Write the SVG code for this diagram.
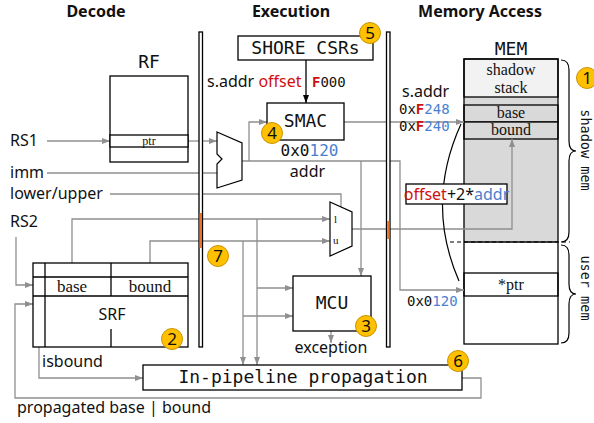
<svg xmlns="http://www.w3.org/2000/svg" width="594" height="423" viewBox="0 0 594 423">
  <defs>
    <marker id="arrow-gray" markerUnits="userSpaceOnUse" markerWidth="8" markerHeight="6" refX="8" refY="3" orient="auto">
      <path d="M0,0 L8,3 L0,6 z" fill="#8f8f8f"/>
    </marker>
    <marker id="arrow-black" markerUnits="userSpaceOnUse" markerWidth="8" markerHeight="6" refX="8" refY="3" orient="auto">
      <path d="M0,0 L8,3 L0,6 z" fill="#000"/>
    </marker>
  </defs>
  <style>
    .head { font-family: "Noto Sans", "Liberation Sans", sans-serif; font-weight: bold; font-size: 16px; fill: #111; text-anchor: middle; }
    .lbl { font-family: "Noto Sans", "Liberation Sans", sans-serif; font-size: 16px; fill: #111; }
    .mono { font-family: "DejaVu Sans Mono", "Liberation Mono", monospace; fill: #111; }
    .serif { font-family: "Liberation Serif", "Times New Roman", serif; fill: #111; }
    .box { fill: #fff; stroke: #000; stroke-width: 1.3; }
    .wire { fill: none; stroke: #8f8f8f; stroke-width: 1.3; }
    .arr { marker-end: url(#arrow-gray); }
    .bar { fill: #fff; stroke: #000; stroke-width: 1.3; }
    .hot { fill: #E8742A; }
    .red { fill: #D01010; }
    .blue { fill: #4A7FD0; }
    .badge circle { fill: #FFC000; stroke: #C89400; stroke-width: 1; }
    .badge text { font-family: "Noto Sans", "Liberation Sans", sans-serif; font-size: 17px; fill: #111; text-anchor: middle; }
  </style>

  <!-- stage titles -->
  <text class="head" x="96" y="17">Decode</text>
  <text class="head" x="291" y="17">Execution</text>
  <text class="head" x="480" y="17">Memory Access</text>

  <!-- memory layout -->
  <g id="mem">
    <text class="mono" x="511" y="55" font-size="18" text-anchor="middle">MEM</text>
    <rect x="464" y="59" width="94" height="183" fill="#d9d9d9" stroke="none"/>
    <rect x="464" y="59" width="94" height="38" fill="#f2f2f2" stroke="#000" stroke-width="1.3"/>
    <text class="serif" x="511" y="75" font-size="16" text-anchor="middle">shadow</text>
    <text class="serif" x="511" y="93" font-size="16" text-anchor="middle">stack</text>
    <rect x="464" y="105" width="94" height="17" fill="#d9d9d9" stroke="#000" stroke-width="1.3"/>
    <text class="serif" x="511" y="118" font-size="16" text-anchor="middle">base</text>
    <rect x="464" y="122" width="94" height="17" fill="#d9d9d9" stroke="#000" stroke-width="1.3"/>
    <text class="serif" x="511" y="135" font-size="16" text-anchor="middle">bound</text>
    <line x1="450" y1="242" x2="570" y2="242" stroke="#000" stroke-width="1.2" stroke-dasharray="4,3"/>
    <rect x="464" y="273" width="94" height="23" fill="#fff" stroke="#000" stroke-width="1.3"/>
    <text class="serif" x="511" y="290" font-size="16" text-anchor="middle">*ptr</text>
    <rect x="464" y="59" width="94" height="285" fill="none" stroke="#000" stroke-width="1.3"/>
    <line x1="464" y1="242" x2="558" y2="242" stroke="#000" stroke-width="1.3"/>
    <!-- region braces -->
    <path d="M561,60 Q569,60 569,70 L569,141 Q569,151 576,151 Q569,151 569,161 L569,232 Q569,242 561,242" fill="none" stroke="#000" stroke-width="1.2"/>
    <path d="M561,245 Q569,245 569,255 L569,284 Q569,294 576,294 Q569,294 569,304 L569,333 Q569,343 561,343" fill="none" stroke="#000" stroke-width="1.2"/>
    <text class="mono" font-size="13.5" text-anchor="middle" transform="translate(581,150) rotate(90)">shadow mem</text>
    <text class="mono" font-size="13.5" text-anchor="middle" transform="translate(581,288) rotate(90)">user mem</text>
  </g>

  <!-- connectors -->
  <g id="connectors">
    <path class="wire arr" d="M47,141 H110"/>
    <path class="wire arr" d="M188,141 H217"/>
    <path class="wire" d="M47,173 H217"/>
    <path class="wire" d="M110,194 H341 V207"/>
    <path class="wire arr" d="M72,263 V219 H330"/>
    <path class="wire arr" d="M150,263 V241 H330"/>
    <path class="wire arr" d="M16,237 V285 H33"/>
    <path class="wire arr" d="M257,219 V365"/>
    <path class="wire arr" d="M257,288 H293"/>
    <path class="wire arr" d="M243,241 V365"/>
    <path class="wire arr" d="M243,316 H293"/>
    <path class="wire arr" d="M242,161 H400 V290 H464"/>
    <path class="wire arr" d="M249,161 V122 H267"/>
    <path class="wire arr" d="M361,161 V276"/>
    <path class="wire arr" d="M344,122 H464"/>
    <path class="wire arr" d="M352,229 H512 V139"/>
    <path class="wire arr" d="M331,331 V343"/>
    <path class="wire arr" d="M39,347 V378 H143"/>
    <path class="wire arr" d="M462,378 H481 V398 H15 V304 H33"/>
    <path d="M306,60 V103" fill="none" stroke="#000" stroke-width="1.3" marker-end="url(#arrow-black)"/>
    <path d="M461,124 Q425,203 459,281" fill="none" stroke="#000" stroke-width="1.2"/>
  </g>

  <!-- pipeline registers -->
  <g id="reg-de">
    <rect class="bar" x="199" y="32" width="3.5" height="315"/>
    <rect class="hot" x="199.6" y="213" width="2.4" height="35"/>
  </g>
  <g id="reg-em">
    <rect class="bar" x="386.5" y="32" width="3.5" height="315"/>
    <rect class="hot" x="387.1" y="221" width="2.4" height="18"/>
  </g>

  <!-- input labels -->
  <g id="inputs">
    <text class="lbl" x="10" y="146">RS1</text>
    <text class="lbl" x="10" y="178">imm</text>
    <text class="lbl" x="10" y="199">lower/upper</text>
    <text class="lbl" x="10" y="227">RS2</text>
  </g>

  <!-- register file -->
  <g id="rf">
    <text class="mono" x="149" y="68" font-size="18" text-anchor="middle">RF</text>
    <rect class="box" x="110" y="76" width="78" height="86"/>
    <rect class="box" x="110" y="135" width="78" height="12"/>
    <text class="serif" x="149" y="145" font-size="12" text-anchor="middle">ptr</text>
  </g>

  <!-- shadow register file -->
  <g id="srf">
    <rect class="box" x="33" y="263" width="155" height="84"/>
    <line x1="45" y1="263" x2="45" y2="347" stroke="#000" stroke-width="1.3"/>
    <line x1="33" y1="277" x2="188" y2="277" stroke="#000" stroke-width="1.3"/>
    <line x1="33" y1="296" x2="188" y2="296" stroke="#000" stroke-width="1.3"/>
    <line x1="111" y1="263" x2="111" y2="296" stroke="#000" stroke-width="1.3"/>
    <line x1="111" y1="329" x2="111" y2="347" stroke="#000" stroke-width="1.3"/>
    <text class="serif" x="72" y="292" font-size="17" text-anchor="middle">base</text>
    <text class="serif" x="150" y="292" font-size="17" text-anchor="middle">bound</text>
    <text class="lbl" x="112" y="320" font-size="18" text-anchor="middle">SRF</text>
    <text class="lbl" x="42" y="367" font-size="15.5">isbound</text>
  </g>

  <!-- CSRs -->
  <g id="csr">
    <rect class="box" x="238" y="36" width="135" height="24"/>
    <text class="mono" x="305.5" y="54" font-size="18" text-anchor="middle">SHORE CSRs</text>
    <text class="lbl" x="207" y="87">s.addr <tspan class="red">offset</tspan></text>
    <text class="mono" x="312" y="87" font-size="14"><tspan class="red" font-weight="bold">F</tspan>000</text>
  </g>

  <!-- address adder -->
  <g id="adder">
    <polygon points="217,132 242,143 242,180 217,188 217,164 222,159 217,154" fill="#fff" stroke="#000" stroke-width="1.2"/>
  </g>

  <!-- shadow memory address calculator -->
  <g id="smac">
    <rect class="box" x="267" y="103" width="77" height="37"/>
    <text class="mono" x="305.5" y="127" font-size="18" text-anchor="middle">SMAC</text>
    <text class="mono" x="309.5" y="156" font-size="16" text-anchor="middle">0x0<tspan class="blue">120</tspan></text>
    <text class="lbl" x="307.5" y="177" text-anchor="middle">addr</text>
  </g>

  <!-- lower/upper select mux -->
  <g id="mux">
    <polygon points="330,202 352,212 352,246 330,256" fill="#fff" stroke="#000" stroke-width="1.2"/>
    <text class="serif" x="334" y="223" font-size="11">l</text>
    <text class="serif" x="333" y="244" font-size="11">u</text>
  </g>

  <!-- metadata check unit -->
  <g id="mcu">
    <rect class="box" x="293" y="276" width="78" height="55"/>
    <text class="mono" x="332" y="309" font-size="18" text-anchor="middle">MCU</text>
    <text class="lbl" x="331" y="353" text-anchor="middle">exception</text>
  </g>

  <!-- memory access labels -->
  <g id="mem-addr">
    <text class="lbl" x="402" y="97">s.addr</text>
    <text class="mono" x="399" y="114" font-size="14">0x<tspan class="red" font-weight="bold">F</tspan><tspan class="blue">248</tspan></text>
    <text class="mono" x="399" y="131" font-size="14">0x<tspan class="red" font-weight="bold">F</tspan><tspan class="blue">240</tspan></text>
    <rect class="box" x="406" y="184" width="101" height="20"/>
    <text class="lbl" x="456.5" y="199.5" font-size="14" text-anchor="middle"><tspan class="red">offset</tspan>+2*<tspan class="blue">addr</tspan></text>
    <text class="mono" x="407" y="306" font-size="14">0x0<tspan class="blue">120</tspan></text>
  </g>

  <!-- propagation -->
  <g id="propagation">
    <rect class="box" x="143" y="365" width="319" height="25"/>
    <text class="mono" x="303" y="383" font-size="18" text-anchor="middle">In-pipeline propagation</text>
    <text class="lbl" x="17" y="413">propagated base | bound</text>
  </g>

  <!-- numbered badges -->
  <g id="badge-1" class="badge"><circle cx="587" cy="78" r="10.5"/><text x="587" y="84">1</text></g>
  <g id="badge-2" class="badge"><circle cx="172" cy="339" r="10.5"/><text x="172" y="345">2</text></g>
  <g id="badge-3" class="badge"><circle cx="366" cy="326" r="10.5"/><text x="366" y="332">3</text></g>
  <g id="badge-4" class="badge"><circle cx="272" cy="133" r="10.5"/><text x="272" y="139">4</text></g>
  <g id="badge-5" class="badge"><circle cx="370" cy="33" r="10.5"/><text x="370" y="39">5</text></g>
  <g id="badge-6" class="badge"><circle cx="458" cy="361" r="10.5"/><text x="458" y="367">6</text></g>
  <g id="badge-7" class="badge"><circle cx="218" cy="256" r="10.5"/><text x="218" y="262">7</text></g>
</svg>
